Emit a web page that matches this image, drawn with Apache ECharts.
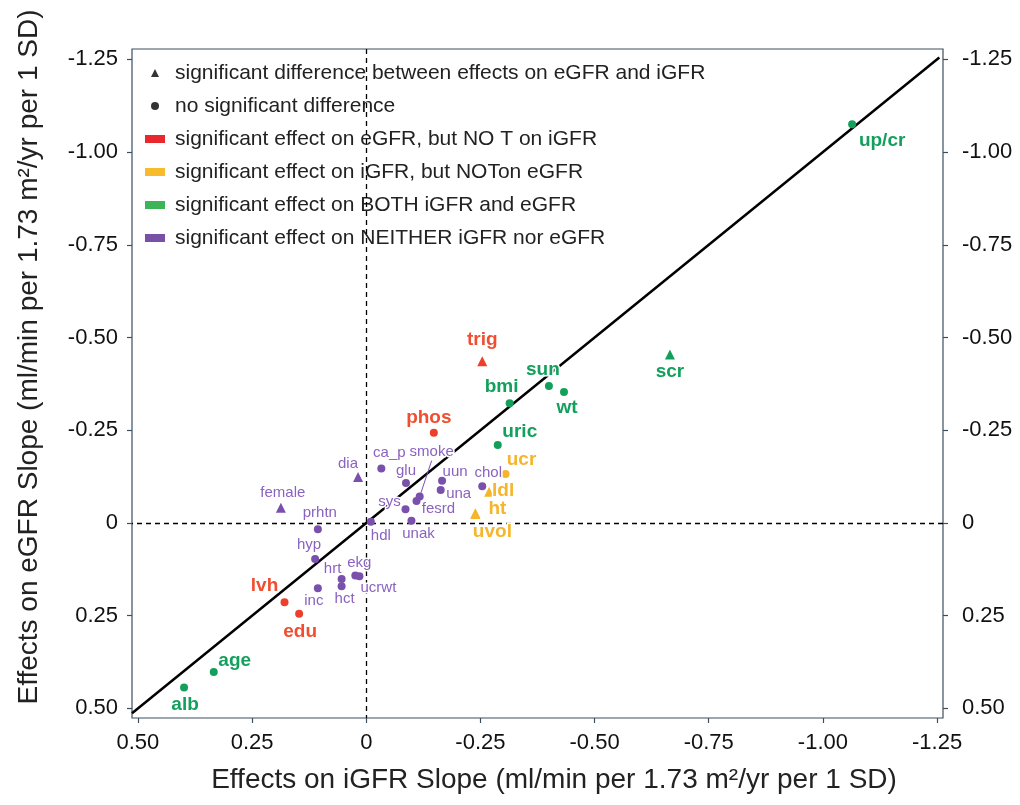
<!DOCTYPE html>
<html><head><meta charset="utf-8">
<script src="https://cdn.jsdelivr.net/npm/echarts@6/dist/echarts.min.js"></script>
<style>html,body{margin:0;padding:0;background:#fff}#c{width:1020px;height:805px}</style>
</head><body><div id="c"></div><script>
// ---------- data ----------
const pointNames = ['up/cr','scr','trig','sun','wt','bmi','phos','uric','ucr','ldl','ht','uvol','chol',
  'dia','ca_p','smoke','fesrd','glu','uun','una','sys','unak','hdl','female','prhtn','hyp','inc','hrt','hct',
  'ekg','ucrwt','lvh','edu','age','alb'];
const iGFRSlope = [-1.064,-0.665,-0.254,-0.400,-0.433,-0.314,-0.148,-0.288,-0.305,-0.269,-0.239,-0.239,-0.254,
  0.018,-0.033,-0.117,-0.110,-0.087,-0.166,-0.163,-0.086,-0.099,-0.010,0.187,0.106,0.112,0.106,0.054,0.054,
  0.024,0.015,0.179,0.147,0.334,0.399];
const eGFRSlope = [-1.075,-0.454,-0.436,-0.369,-0.353,-0.323,-0.243,-0.210,-0.132,-0.084,-0.026,-0.024,-0.099,
  -0.124,-0.147,-0.071,-0.059,-0.108,-0.114,-0.089,-0.037,-0.006,-0.003,-0.041,0.017,0.097,0.176,0.151,0.171,
  0.142,0.144,0.214,0.245,0.402,0.444];
// effect group: 0 = eGFR only, 1 = iGFR only, 2 = both, 3 = neither
const effectGroup = [2,2,0,2,2,2,0,2,1,1,1,1,3, 3,3,3,3,3,3,3,3,3,3,3,3,3,3,3,3, 3,3,0,0,2,2];
// significant difference between effects on eGFR and iGFR
const sigDifference = [0,1,1,0,0,0,0,0,0,1,1,1,0, 1,0,0,0,0,0,0,0,0,0,1,0,0,0,0,0, 0,0,0,0,0,0];
const tickValues = [-1.25,-1.00,-0.75,-0.50,-0.25,0,0.25,0.50];
const legendShapeLabels = ['significant difference between effects on eGFR and iGFR','no significant difference'];
const legendGroupLabels = ['significant effect on eGFR, but NO T on iGFR','significant effect on iGFR, but NOTon eGFR',
  'significant effect on BOTH iGFR and eGFR','significant effect on NEITHER iGFR nor eGFR'];
const identityLine = [[0.513,0.513],[-1.255,-1.255]];

// ---------- styles ----------
const groupColors = ['#ee3f2c','#f6b52a','#14a05a','#7a50ad'];
const groupLegendColors = ['#e8282c','#f7bb2c','#3db458','#7a4fa6'];
const groupLabelColors = ['#f04e30','#f5b52c','#13a05c','#8a62c0'];
// label centre offsets from the point (px)
const labelOffset = {
  'up/cr':[30,16],'scr':[0,17],'trig':[0,-21],'sun':[-6,-16],'wt':[3,16],'bmi':[-8,-16],'phos':[-5,-15],
  'uric':[22,-13],'ucr':[16,-14],'ldl':[14,-1],'ht':[22,-5],'uvol':[17,18],'chol':[6,-13],'dia':[-10,-13],
  'ca_p':[8,-16],'smoke':[12,-45],'glu':[0,-12],'uun':[13,-9],'una':[18,4],'fesrd':[22,8],'sys':[-16,-7],
  'unak':[7,13],'hdl':[10,14],'female':[2,-15],'prhtn':[2,-16],'hyp':[-6,-14],'inc':[-4,13],'hrt':[-9,-10],
  'hct':[3,13],'ekg':[4,-13],'ucrwt':[19,12],'lvh':[-20,-17],'edu':[1,18],'age':[21,-11],'alb':[1,17]
};
const axisColor = '#3d4f5c';
const font = 'Liberation Sans, Arial, Helvetica, sans-serif';

const chart = echarts.init(document.getElementById('c'));

const groupSeries = legendGroupLabels.map((gname, g) => {
  const data = [];
  pointNames.forEach((n, i) => {
    if (effectGroup[i] !== g) return;
    const item = {
      name: n,
      value: [iGFRSlope[i], eGFRSlope[i]],
      symbol: sigDifference[i] ? 'triangle' : 'circle',
      symbolSize: sigDifference[i] ? 10 : 8
    };
    if (n === 'smoke') {
      item.labelLine = {show: true, lineStyle: {color: groupColors[3], width: 1}};
    }
    data.push(item);
  });
  const big = g !== 3;
  return {
    name: gname,
    type: 'scatter',
    z: 5,
    data: data,
    itemStyle: {color: groupColors[g], opacity: 1},
    label: {
      show: true,
      position: 'inside',
      formatter: '{b}',
      color: groupLabelColors[g],
      fontFamily: font,
      fontSize: big ? 19 : 15,
      fontWeight: big ? 'bold' : 'normal',
      textBorderColor: '#fff',
      textBorderWidth: 3
    },
    labelLayout: function (p) {
      const o = labelOffset[data[p.dataIndex].name] || [0, 0];
      return {dx: o[0], dy: o[1]};
    },
    emphasis: {disabled: true}
  };
});

const legendText = {fontSize: 21, color: '#222', fontFamily: font, lineHeight: 24};
const axisLabelBase = {customValues: tickValues, fontSize: 22, color: '#111', fontFamily: font,
  formatter: v => (Math.abs(v) < 1e-9 ? '0' : v.toFixed(2))};

const option = {
  backgroundColor: '#fff',
  animation: false,
  textStyle: {fontFamily: font},
  grid: {left: 132, right: 77, top: 49, bottom: 87, show: true, borderColor: axisColor, borderWidth: 1.2},
  legend: [
    {
      orient: 'vertical', left: 151, top: 61, padding: 0,
      itemWidth: 8, itemHeight: 8, itemGap: 9, selectedMode: false,
      textStyle: Object.assign({}, legendText, {padding: [0, 0, 0, 11]}),
      data: [
        {name: legendShapeLabels[0], icon: 'triangle', itemStyle: {color: '#000'}},
        {name: legendShapeLabels[1], icon: 'circle', itemStyle: {color: '#000'}}
      ]
    },
    {
      orient: 'vertical', left: 145, top: 127, padding: 0,
      itemWidth: 20, itemHeight: 8, itemGap: 9, selectedMode: false,
      textStyle: Object.assign({}, legendText, {padding: [0, 0, 0, 5]}),
      data: legendGroupLabels.map((n, g) => ({name: n, icon: 'rect', itemStyle: {color: groupLegendColors[g]}}))
    }
  ],
  xAxis: {
    type: 'value', inverse: true, min: -1.263, max: 0.513,
    axisLine: {show: false, onZero: false},
    splitLine: {show: false},
    axisTick: {show: true, length: 5, customValues: tickValues, lineStyle: {color: axisColor, width: 1.2}},
    axisLabel: Object.assign({margin: 14}, axisLabelBase)
  },
  yAxis: [0, 1].map(k => ({
    type: 'value', inverse: true, min: -1.278, max: 0.526,
    position: k === 0 ? 'left' : 'right',
    axisLine: {show: false, onZero: false},
    splitLine: {show: false},
    axisTick: {show: true, length: 5, customValues: tickValues, lineStyle: {color: axisColor, width: 1.2}},
    axisLabel: Object.assign({margin: k === 0 ? 14 : 19}, axisLabelBase)
  })),
  graphic: [
    {type: 'text', x: 554, y: 780, silent: true,
      style: {text: 'Effects on iGFR Slope (ml/min per 1.73 m\u00b2/yr per 1 SD)', font: '28px ' + font,
        fill: '#222', textAlign: 'center', textVerticalAlign: 'middle'}},
    {type: 'text', x: 29, y: 357, rotation: Math.PI / 2, silent: true,
      style: {text: 'Effects on eGFR Slope (ml/min per 1.73 m\u00b2/yr per 1 SD)', font: '28px ' + font,
        fill: '#222', textAlign: 'center', textVerticalAlign: 'middle'}}
  ],
  series: [
    {
      name: 'identity', type: 'line', data: identityLine, symbol: 'none', z: 2,
      lineStyle: {color: '#000', width: 2.5}, silent: true,
      markLine: {
        silent: true, symbol: 'none', label: {show: false},
        lineStyle: {color: '#000', type: [5, 4], width: 1.3},
        data: [{xAxis: 0}, {yAxis: 0}]
      }
    },
    {name: legendShapeLabels[0], type: 'scatter', data: [], color: '#000'},
    {name: legendShapeLabels[1], type: 'scatter', data: [], color: '#000'}
  ].concat(groupSeries)
};
chart.setOption(option);
</script></body></html>
